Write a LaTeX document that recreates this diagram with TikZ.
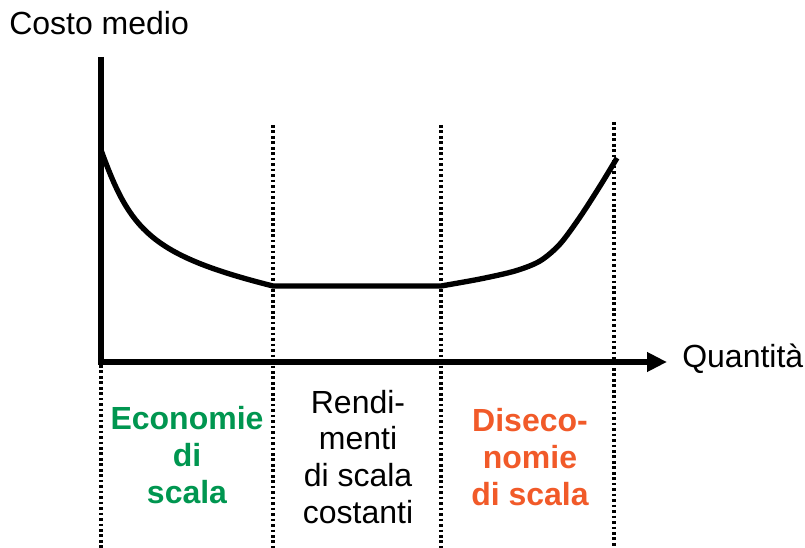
\documentclass[tikz,border=0pt]{standalone}
\usepackage{fontspec}
\setmainfont{Liberation Sans}
\usepackage{tikz}
\usetikzlibrary{arrows.meta}
\definecolor{ecogreen}{RGB}{0,150,80}
\definecolor{disorange}{RGB}{241,90,41}

\begin{document}
\begin{tikzpicture}[x=0.75pt,y=-0.75pt,
    axisline/.style={line width=4pt,line join=miter},
    sepline/.style={line width=2.3pt,dash pattern=on 2pt off 2.1pt},
    curveline/.style={line width=4pt,line join=round},
    lbl/.style={font=\fontsize{24}{27.5}\selectfont,inner sep=0pt},
    zone/.style={lbl,align=center,anchor=base}]
        \useasboundingbox (0,0) rectangle (805,548);
        % Axes
        \coordinate (ytop) at (101,57);
        \coordinate (O) at (101,362);
        \coordinate (xend) at (667,362);
        \draw[sepline] (101,365) -- (101,548);
        \draw[sepline] (273,125) -- (273,548);
        \draw[sepline] (441,125) -- (441,548);
        \draw[sepline] (614,122) -- (614,548);
        \draw[axisline,-{Triangle[length=15pt,width=14pt]}] (ytop) -- (O) -- (xend);
        \node[lbl,anchor=base west] (ylabel) at (9,35) {Costo medio};
        \node[lbl,anchor=base west] (xlabel) at (682,367) {Quantità};
        % Average cost curve
        \coordinate (a) at (101,150);
        \coordinate (b) at (273,286);
        \coordinate (c) at (441,286);
        \coordinate (d) at (617,158);
        \draw[curveline] (a) .. controls (130,230) and (150,255) .. (b) -- (c)
            -- plot[smooth,tension=0.5] coordinates {(441,286) (480,279) (515,271) (540,261) (560,244) (580,217) (600,186) (617,158)};
        % Zones
        \node[zone,text=ecogreen,font=\bfseries\fontsize{24}{27.5}\selectfont] (eco) at (187,503) {Economie\\di\\scala};
        \node[zone] (rend) at (358,523) {Rendi-\\menti\\di scala\\costanti};
        \node[zone,text=disorange,font=\bfseries\fontsize{24}{27.5}\selectfont] (dis) at (530,505) {Diseco-\\nomie\\di scala};
    \end{tikzpicture}
\end{document}
